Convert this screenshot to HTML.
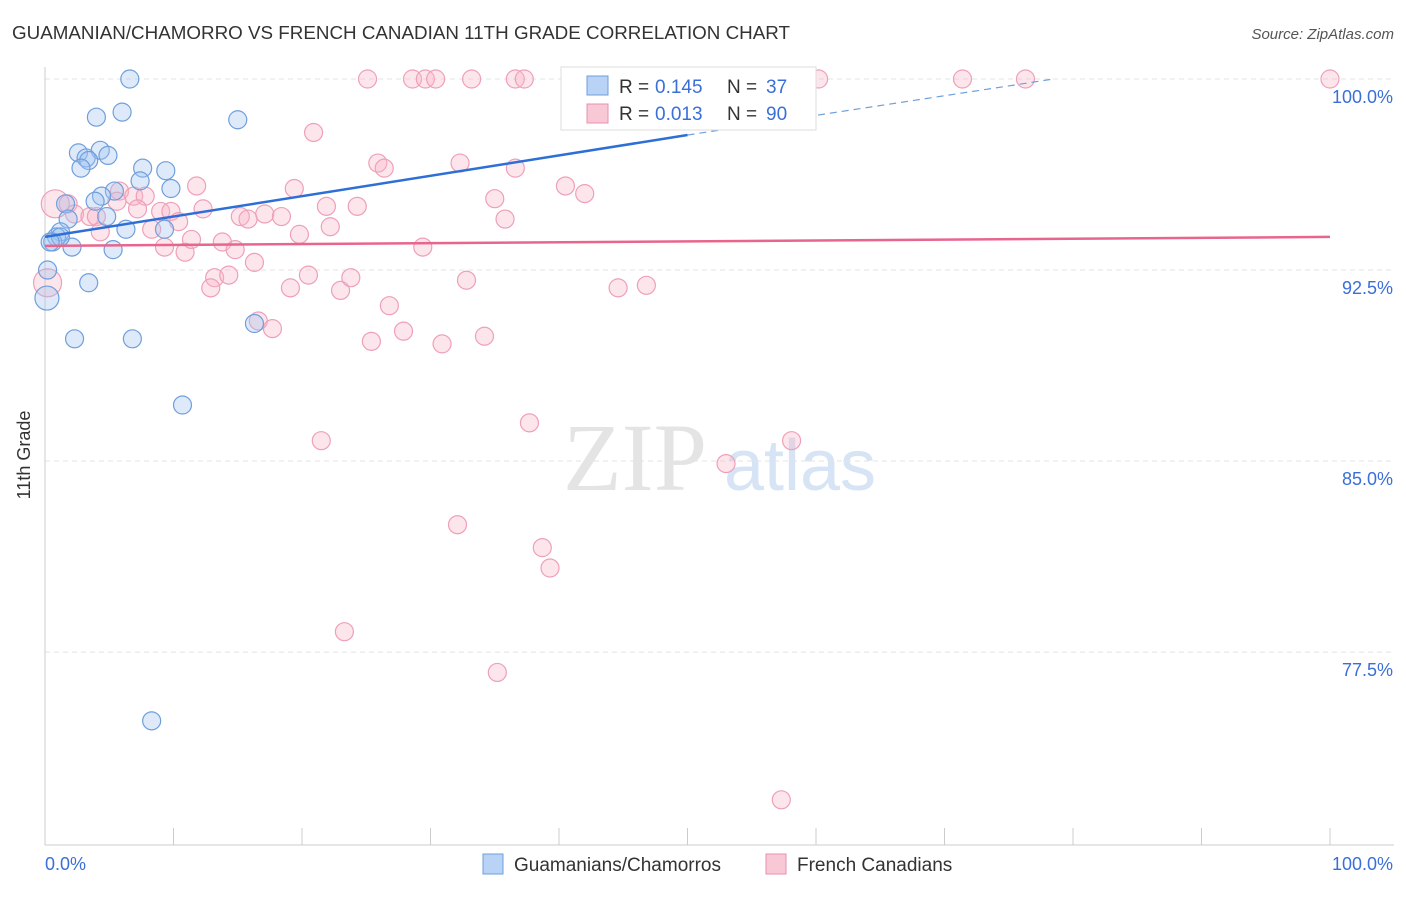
<!DOCTYPE html>
<html><head><meta charset="utf-8"><style>
body{margin:0;background:#fff;font-family:"Liberation Sans",sans-serif}
</style></head><body>
<svg width="1406" height="892" xmlns="http://www.w3.org/2000/svg" font-family="Liberation Sans, sans-serif">
<text x="12" y="39" font-size="18" fill="#333" textLength="778" lengthAdjust="spacingAndGlyphs">GUAMANIAN/CHAMORRO VS FRENCH CANADIAN 11TH GRADE CORRELATION CHART</text>
<text x="1394" y="39" font-size="15" fill="#555" text-anchor="end" font-style="italic">Source: ZipAtlas.com</text>
<text x="30" y="455" font-size="18" fill="#333" text-anchor="middle" transform="rotate(-90 30 455)">11th Grade</text>
<g><text x="635" y="490" font-size="96" fill="#e4e4e4" font-family="Liberation Serif, serif" text-anchor="middle">ZIP</text><text x="800" y="490" font-size="72" fill="#d6e4f5" text-anchor="middle">atlas</text></g>
<g id="grid"></g><g id="axes"></g><g id="pts"></g><g id="trend"></g>
<g>
<rect x="561" y="67" width="255" height="63" fill="#fff" stroke="#ddd"/>
<rect x="587" y="76" width="21" height="19" fill="#b8d3f5" stroke="#6f9fdc"/>
<text x="619" y="93" font-size="19" fill="#333">R =</text><text x="655" y="93" font-size="19" fill="#3a6fd8">0.145</text>
<text x="727" y="93" font-size="19" fill="#333">N =</text><text x="766" y="93" font-size="19" fill="#3a6fd8">37</text>
<rect x="587" y="104" width="21" height="19" fill="#f9c8d6" stroke="#e890aa"/>
<text x="619" y="120" font-size="19" fill="#333">R =</text><text x="655" y="120" font-size="19" fill="#3a6fd8">0.013</text>
<text x="727" y="120" font-size="19" fill="#333">N =</text><text x="766" y="120" font-size="19" fill="#3a6fd8">90</text>
</g>
<g>
<rect x="483" y="854" width="20" height="20" fill="#b8d3f5" stroke="#6f9fdc"/>
<text x="514" y="871" font-size="19" fill="#333">Guamanians/Chamorros</text>
<rect x="766" y="854" width="20" height="20" fill="#f9c8d6" stroke="#e890aa"/>
<text x="797" y="871" font-size="19" fill="#333">French Canadians</text>
</g>
<script>
const yTicks=[100,92.5,85,77.5];
const yTickLabels=["100.0%","92.5%","85.0%","77.5%"];
const blueX=[6.6,4,6,15,2.6,4.3,4.9,3.2,3.4,2.8,7.6,9.4,7.4,9.8,5.4,4.4,3.9,1.6,4.8,1.8,6.3,9.3,1.2,0.9,0.6,2.1,5.3,0.2,3.4,0.15,16.3,2.3,6.8,10.7,8.3,1.2,0.4];
const blueY=[100,98.5,98.7,98.4,97.1,97.2,97,96.9,96.8,96.5,96.5,96.4,96.0,95.7,95.6,95.4,95.2,95.1,94.6,94.5,94.1,94.1,94.0,93.8,93.6,93.4,93.3,92.5,92.0,91.4,90.4,89.8,89.8,87.2,74.8,93.8,93.6];
const pinkX=[25.1,28.6,29.6,30.4,33.2,36.6,37.3,47.6,60.2,71.4,76.3,100,20.9,25.9,26.4,32.3,36.6,11.8,19.4,40.5,42,35,0.8,1.8,5.8,6.9,7.8,5.6,7.2,9,9.8,12.3,15.2,15.8,17.1,18.4,21.9,24.3,35.8,2.3,3.5,4.0,4.3,8.3,10.4,19.8,22.2,9.3,10.9,11.4,13.8,14.8,16.3,29.4,13.2,12.9,14.3,20.5,19.1,23,23.8,32.8,44.6,46.8,26.8,16.6,17.7,27.9,25.4,30.9,34.2,21.5,37.7,58.1,53,32.1,38.7,39.3,23.3,35.2,57.3,0.2];
const pinkY=[100,100,100,100,100,100,100,100,100,100,100,100,97.9,96.7,96.5,96.7,96.5,95.8,95.7,95.8,95.5,95.3,95.1,95.1,95.6,95.4,95.4,95.2,94.9,94.8,94.8,94.9,94.6,94.5,94.7,94.6,95,95,94.5,94.7,94.6,94.6,94,94.1,94.4,93.9,94.2,93.4,93.2,93.7,93.6,93.3,92.8,93.4,92.2,91.8,92.3,92.3,91.8,91.7,92.2,92.1,91.8,91.9,91.1,90.5,90.2,90.1,89.7,89.6,89.9,85.8,86.5,85.8,84.9,82.5,81.6,80.8,78.3,76.7,71.7,92.0];
const X=v=>45+v*12.85, Y=v=>79+(100-v)*25.47;
const ns="http://www.w3.org/2000/svg";
function mk(t,a,p){const e=document.createElementNS(ns,t);for(const k in a)e.setAttribute(k,a[k]);document.getElementById(p).appendChild(e);return e;}
yTicks.forEach((t,i)=>{
 const g=mk('line',{x1:45,x2:1394,y1:Y(t),y2:Y(t),stroke:'#e3e3e3','stroke-dasharray':'5,4'},'grid');
 
 
 const l=mk('text',{x:1393,y:Y(t)+24,'font-size':18,fill:'#3a6fd8','text-anchor':'end'},'axes');l.textContent=yTickLabels[i];
 
 
});
const ax=mk('line',{x1:45,x2:45,y1:67,y2:845,stroke:'#ccc'},'axes');


const bx=mk('line',{x1:45,x2:1394,y1:845,y2:845,stroke:'#ccc'},'axes');


for(let i=0;i<=10;i++){const t=mk('line',{x1:X(i*10),x2:X(i*10),y1:828,y2:845,stroke:'#ccc'},'axes');
 
 }
[["0.0%",45,"start"],["100.0%",1393,"end"]].forEach(a=>{const t=mk('text',{x:a[1],y:870,'font-size':18,fill:'#3a6fd8','text-anchor':a[2]},'axes');t.textContent=a[0];
 
 });
pinkX.forEach((x,i)=>{const r=(i==22||i==81)?14:9;const c=mk('circle',{cx:X(x),cy:Y(pinkY[i]),r:r,fill:'rgba(248,180,200,0.35)',stroke:'#eea0b8','stroke-width':1.2},'pts');
 
 });
blueX.forEach((x,i)=>{const c=mk('circle',{cx:X(x),cy:Y(blueY[i]),r:i==29?12:9,fill:'rgba(160,195,240,0.35)',stroke:'#6f9fdc','stroke-width':1.2},'pts');
 
 });
const b1=mk('line',{x1:X(0),y1:Y(93.8),x2:X(50),y2:Y(97.8),stroke:'#2d6fd6','stroke-width':2.5},'trend');


const b2=mk('line',{x1:X(50),y1:Y(97.8),x2:X(78.5),y2:Y(100),stroke:'#6f9fdc','stroke-width':1.2,'stroke-dasharray':'7,5'},'trend');


const p1=mk('line',{x1:X(0),y1:Y(93.45),x2:X(100),y2:Y(93.8),stroke:'#e8668e','stroke-width':2.5},'trend');


</script>
</svg>
</body></html>
